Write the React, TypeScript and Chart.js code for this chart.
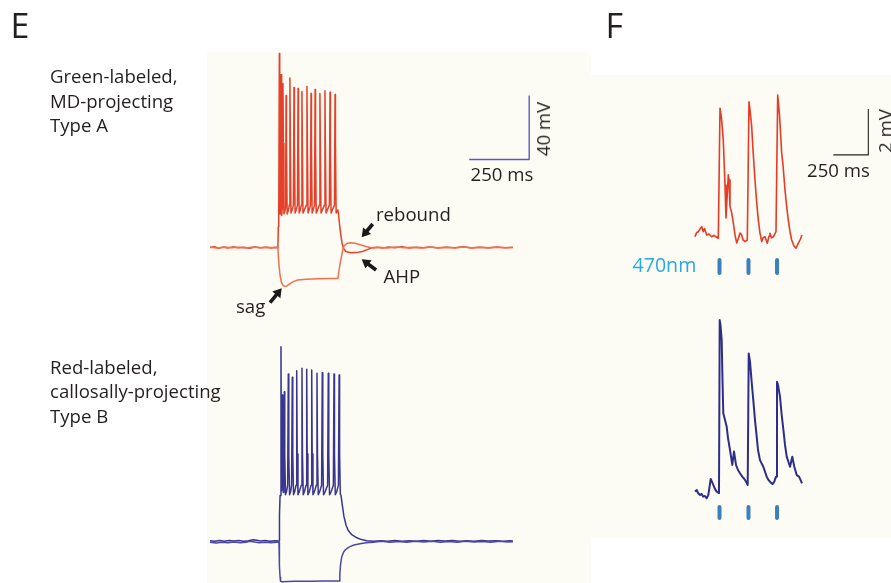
import React, { useEffect, useRef } from "react";
import { Chart, registerables } from "chart.js";

Chart.register(...registerables);

type P = [number, number];

// ---------- Panel E (time in ms, membrane potential in mV) ----------
const eRedSpiking: P[] = [
  [0, -65], [18, -64.5], [35, -65.4], [55, -64.8], [75, -65.3], [95, -64.6], [118, -65.2], [140, -64.9],
  [165, -65.4], [188, -64.7], [210, -65.2], [232, -64.8], [255, -65.3], [270, -64.8], [283, -65],
  [284.5, -52], [286.5, -42], [289, 56.3], [290.5, 0], [292, -44], [294, -40], [296, 43], [297.5, 0],
  [299.5, -45], [302, -39], [304, 37.5], [305.7, 0], [308, -44], [312, -42.5], [315, -39.5], [317, 30],
  [318.8, -5], [321.5, -44], [326, -42], [330.5, -38.5], [333, 41], [334.8, 0], [337.5, -43.5], [342, -41.5],
  [347.5, -38.5], [350, 35], [351.8, 0], [354.5, -43.5], [359, -41.5], [364.5, -38.5], [367, 34.4], [368.8, 0],
  [371.5, -43.5], [376, -41.5], [380.5, -38.5], [383, 32.5], [384.8, 0], [387.5, -43.5], [393, -41.5],
  [401.5, -38.5], [404, 35.6], [405.8, 0], [408.5, -43.5], [413, -41.5], [418.5, -38.5], [421, 31.3],
  [422.8, 0], [425.5, -43.5], [430, -41.5], [435.5, -38.5], [438, 33.8], [439.8, 0], [442.5, -43.5],
  [448, -41.5], [455.5, -38.5], [458, 31.3], [459.8, 0], [462.5, -43.5], [468, -41.5], [476.5, -38.5],
  [479, 33], [480.8, 0], [483.5, -43.5], [489, -41.5], [497.5, -38.5], [500, 32], [501.8, 0], [504.5, -43.5],
  [510, -41.5], [518.5, -38.5], [521, 30.6], [522.8, 0], [525.5, -43.5], [530, -42], [533, -41.5],
  [536, -45], [540, -51], [545, -57], [550, -62], [556, -65.5], [566, -67.5], [585, -68.3], [610, -68.2],
  [635, -67.5], [658, -66.2], [675, -65.2], [695, -64.8], [720, -65.3], [745, -64.7], [770, -65.2],
  [800, -64.6], [830, -65.3], [860, -64.8], [890, -65.2], [920, -64.7], [950, -65.3], [985, -64.8],
  [1020, -65.2], [1055, -64.6], [1090, -65.3], [1125, -64.8], [1160, -65.1], [1195, -64.7], [1230, -65.2],
  [1262, -64.9],
];

const eRedHyperpol: P[] = [
  [0, -64.9], [30, -65.3], [60, -64.7], [90, -65.2], [120, -64.8], [150, -65.3], [180, -64.7], [210, -65.1],
  [240, -64.8], [265, -65.2], [283, -65], [285, -71], [288, -77], [292, -82.5], [297, -86.5], [304, -88.7],
  [312, -89.3], [320, -89.1], [332, -87.8], [347, -86.3], [365, -85.3], [400, -84.8], [450, -84.6],
  [500, -84.4], [533, -84.3], [537, -80], [542, -75], [548, -70.5], [554, -66], [560, -63.8], [570, -62.5],
  [585, -62], [605, -62.4], [625, -63.3], [650, -64.4], [675, -65.3], [705, -64.8], [740, -65.3],
  [775, -64.7], [810, -65.2], [845, -64.8], [880, -65.3], [915, -64.7], [950, -65.1], [985, -64.8],
  [1020, -65.3], [1055, -64.7], [1090, -65.2], [1125, -64.8], [1160, -65.3], [1195, -64.8], [1230, -65.1],
  [1262, -65],
];

const eBlueSpiking: P[] = [
  [0, -64.2], [20, -64.6], [40, -64.1], [60, -64.5], [80, -64.0], [100, -64.4], [120, -64.1], [140, -64.6],
  [160, -64.2], [180, -63.6], [195, -63.9], [210, -64.4], [230, -64.1], [250, -64.5], [270, -64.2],
  [287.5, -64.3], [289.5, -48], [292, -36], [295.8, 57.1], [297.3, -10], [298.8, -33], [301.3, 26.9],
  [303, -10], [305.5, -34], [307.5, -31], [309.6, 28.9], [311.5, -10], [314.5, -35.5], [319, -33.5],
  [323.5, -29.5], [326.3, 40], [328.3, -10], [331.5, -35.5], [336, -33.5], [340, -29.5], [342.9, 37.9],
  [344.9, -10], [348, -35.5], [353, -33.5], [358.5, -29.5], [361.3, 42.1], [363.3, -10], [366.5, -35.5],
  [372, -33.5], [380.5, -29.5], [383.3, 43.6], [385.3, -10], [388.5, -35.5], [393.5, -33.5], [400, -29.5],
  [402.9, 42.9], [404.9, -10], [408, -35.5], [414, -33.5], [421, -29.5], [423.8, 42.5], [425.8, -10],
  [429, -35.5], [435, -33.5], [443, -29.5], [445.8, 40.4], [447.8, -10], [451, -35.5], [457, -33.5],
  [465, -29.5], [467.9, 40.8], [469.9, -10], [473, -35.5], [480, -33.5], [490, -29.5], [492.9, 40.4],
  [494.9, -10], [498, -35.5], [505, -33.5], [514, -29.5], [516.7, 40], [518.7, -10], [522, -35.5],
  [528, -33.5], [535, -29.5], [538, 39.4], [540, -10], [543, -35], [546, -36], [550, -40.5], [558, -49],
  [567, -54.5], [576, -57.8], [592, -60.6], [611, -62.3], [632, -63.5], [653, -64.2], [680, -64.5],
  [710, -64.2], [740, -64.6], [770, -64.1], [800, -64.5], [830, -64.2], [860, -64.6], [890, -64.1],
  [920, -64.5], [950, -64.0], [980, -64.4], [1010, -64.1], [1040, -64.5], [1070, -64.2], [1100, -64.6],
  [1130, -64.1], [1160, -64.4], [1190, -64.2], [1220, -64.5], [1250, -64.2], [1262, -64.3],
];

const eBlueHyperpol: P[] = [
  [0, -65.2], [25, -65.6], [50, -65.1], [75, -65.5], [100, -65.0], [125, -65.4], [150, -65.1], [165, -64.5],
  [180, -64.8], [205, -65.4], [230, -65.1], [255, -65.5], [275, -65.2], [287.5, -65.2], [288.5, -72],
  [290, -80], [292, -87], [294, -89.5], [300, -89.8], [350, -89.6], [420, -89.5], [480, -89.4], [539, -89.3],
  [541, -85], [544, -79], [549, -74.2], [556, -71.5], [563, -70], [573, -68.8], [583, -67.9], [600, -66.9],
  [625, -66.1], [650, -65.5], [680, -65.2], [715, -64.6], [750, -65.1], [785, -64.7], [820, -65.2],
  [855, -64.6], [890, -65.0], [925, -64.5], [960, -65.1], [995, -64.7], [1030, -65.2], [1065, -64.6],
  [1100, -65.0], [1135, -64.7], [1170, -65.2], [1205, -64.6], [1240, -65.0], [1262, -64.8],
];

// scale bar: 250 ms, 40 mV
const eScaleBar: P[] = [[1080, -10], [1330, -10], [1330, 30]];

// annotation arrows (tail -> tip), in E ms / mV
const eArrowTails: P[] = [[678, -50.3], [692, -79.1], [250, -99.5]];
const eArrowTips: P[] = [[632, -58.6], [632, -72.4], [298.8, -90.5]];

// ---------- Panel F (time in ms, mV relative to baseline) ----------
const fRedTrace: P[] = [
  [0, 0.01], [12, 0.2], [23.6, 0.23], [35.7, 0.35], [47.9, 0.45], [59.3, 0.23], [67.9, 0.37], [83.6, 0.09],
  [100, 0.13], [119.3, 0.01], [135.7, 0.07], [155, -0.01], [166.4, -0.06], [178.6, 5.6], [189, 5.17],
  [202, 4.22], [214.3, 2.26], [221.4, 0.83], [237.9, 2.7], [242.9, 2.48], [250, 1.32], [260.7, 1.09],
  [273.6, 0.61], [285.7, 0.09], [297.9, -0.26], [310.7, -0.04], [321.4, 0.17], [333.6, 0.09], [342.9, -0.13],
  [357.1, -0.2], [373.6, -0.13], [385.7, 5.88], [392.9, 5.52], [405, 4.8], [414.3, 3.78], [428.6, 2.48],
  [439.3, 1.61], [452.1, 0.74], [464.3, 0.17], [476.4, -0.2], [485.7, -0.04], [500, 0.01], [516.4, -0.27],
  [528.6, 0.04], [535.7, 0.16], [546.4, -0.04], [559.3, 0.01], [578.6, 0.23], [590.7, 6.17], [603.6, 5.3],
  [619.3, 3.64], [628.6, 3.13], [642.9, 2.04], [653.6, 1.39], [666.4, 0.74], [678.6, 0.22], [690.7, -0.13],
  [707, -0.39], [721.4, -0.49], [735.7, -0.3], [750, -0.13], [764.3, 0.09],
];

const fBlueTrace: P[] = [
  [0, 0.06], [12.1, 0.13], [21.4, 0], [35.7, -0.09], [46.4, -0.04], [59.3, -0.16], [71.4, -0.13],
  [83.6, -0.23], [95, -0.09], [112.1, 0.61], [130.7, 0.35], [142.9, 0.17], [155, 0.06], [171.4, -0.01],
  [176.4, 7.52], [182.1, 7.3], [190.7, 6.65], [196.4, 4.91], [202.1, 3.47], [214.3, 3.17], [226.4, 2.88],
  [235.7, 2.39], [250, 1.87], [266.4, 1.22], [278.6, 1.8], [292.9, 1.22], [307.1, 1], [321.4, 0.86],
  [339.3, 0.7], [357.1, 0.57], [376.4, 0.35], [383.6, 6.07], [392.9, 5.71], [403.6, 4.91], [416.4, 4.04],
  [428.6, 3.17], [440.7, 2.45], [450, 1.87], [464.3, 1.43], [487.9, 1.14], [512.1, 0.71], [525, 0.57],
  [540.7, 0.45], [553.6, 0.39], [566.4, 0.49], [578.6, 0.71], [585.7, 4.84], [592.9, 4.7], [607.1, 4.19],
  [619.3, 3.39], [631.4, 2.74], [642.9, 2.09], [655, 1.58], [667.9, 1.35], [678.6, 1.14], [695, 1.58],
  [709.3, 1.14], [726.4, 0.78], [742.9, 0.71], [753.6, 0.57], [764.3, 0.42],
];

// 470 nm light pulses (ms) and bar extents (mV) in each F row
const stimTimes: number[] = [175, 382, 586];
const fRedStimRange: [number, number] = [-1.0, -1.57];
const fBlueStimRange: [number, number] = [-0.61, -1.09];

// scale bar: 250 ms, 2 mV
const fScaleBar: P[] = [[988, 3.57], [1238, 3.57], [1238, 5.57]];

// ---------- layout ----------
const W = 891;
const H = 583;
const CREAM = "#fcfcf4";
const FS = 18.6;

const xRange = (originPx: number, ppu: number, originVal: number) => ({
  min: originVal - originPx / ppu,
  max: originVal + (W - originPx) / ppu,
});
const yRange = (originPx: number, ppu: number, originVal: number) => ({
  min: originVal - (H - originPx) / ppu,
  max: originVal + originPx / ppu,
});

const toXY = (arr: P[]) => arr.map(([x, y]) => ({ x, y }));
const stimData = (range: [number, number]) => {
  const out: { x: number; y: number | null }[] = [];
  stimTimes.forEach((t) => {
    out.push({ x: t, y: range[0] }, { x: t, y: range[1] }, { x: t, y: null });
  });
  return out;
};

const arrowPlugin = {
  id: "arrows",
  afterDatasetsDraw(chart: any) {
    const xs = chart.scales.xE;
    const ys = chart.scales.yE1;
    const ctx = chart.ctx as CanvasRenderingContext2D;
    ctx.save();
    ctx.fillStyle = "#1a1a1a";
    ctx.strokeStyle = "#1a1a1a";
    ctx.lineWidth = 3.6;
    ctx.lineCap = "butt";
    eArrowTails.forEach((tail, i) => {
      const tip = eArrowTips[i];
      const x0 = xs.getPixelForValue(tail[0]);
      const y0 = ys.getPixelForValue(tail[1]);
      const x1 = xs.getPixelForValue(tip[0]);
      const y1 = ys.getPixelForValue(tip[1]);
      const ang = Math.atan2(y1 - y0, x1 - x0);
      const headLen = 8.5;
      const headHalf = 5.2;
      const bx = x1 - Math.cos(ang) * headLen;
      const by = y1 - Math.sin(ang) * headLen;
      ctx.beginPath();
      ctx.moveTo(x0, y0);
      ctx.lineTo(bx + Math.cos(ang), by + Math.sin(ang));
      ctx.stroke();
      ctx.beginPath();
      ctx.moveTo(x1, y1);
      ctx.lineTo(bx - Math.sin(ang) * headHalf, by + Math.cos(ang) * headHalf);
      ctx.lineTo(bx + Math.sin(ang) * headHalf, by - Math.cos(ang) * headHalf);
      ctx.closePath();
      ctx.fill();
    });
    ctx.restore();
  },
};

type Label = { text: string; left: number; top: number; size?: number; color?: string };
// top = text baseline - 18.2 for the 18.6px body text
const labels: Label[] = [
  { text: "E", left: 10.5, top: 4.5, size: 34 },
  { text: "F", left: 605.5, top: 4.5, size: 34 },
  { text: "Green-labeled,", left: 50, top: 65.1 },
  { text: "MD-projecting", left: 50, top: 89.6 },
  { text: "Type A", left: 50, top: 114.1 },
  { text: "Red-labeled,", left: 50, top: 355.8 },
  { text: "callosally-projecting", left: 50, top: 380.3 },
  { text: "Type B", left: 50, top: 404.8 },
  { text: "sag", left: 236, top: 295.1 },
  { text: "rebound", left: 376, top: 202.5 },
  { text: "AHP", left: 383.5, top: 265.1 },
  { text: "250 ms", left: 470.5, top: 162.5 },
  { text: "250 ms", left: 807, top: 158.5 },
  { text: "470nm", left: 632.5, top: 254, size: 19.6, color: "#27a9e1" },
];
const rotLabels = [
  { text: "40 mV", cx: 543.3, cy: 129 },
  { text: "2 mV", cx: 884.5, cy: 131 },
];

export default function App() {
  const ref = useRef<HTMLCanvasElement>(null);

  useEffect(() => {
    const canvas = ref.current;
    if (!canvas) return;
    const line = (data: any[], color: string, width: number, xAxisID: string, yAxisID: string, extra: any = {}) => ({
      data,
      showLine: true,
      borderColor: color,
      backgroundColor: color,
      borderWidth: width,
      pointRadius: 0,
      pointHoverRadius: 0,
      tension: 0,
      fill: false,
      spanGaps: false,
      borderJoinStyle: "round",
      xAxisID,
      yAxisID,
      ...extra,
    });
    const chart = new Chart(canvas, {
      type: "scatter",
      data: {
        datasets: [
          line(toXY(eRedHyperpol), "#f2704f", 1.5, "xE", "yE1"),
          line(toXY(eRedSpiking), "#e5402a", 1.5, "xE", "yE1"),
          line(toXY(eBlueHyperpol), "#4a48a0", 1.5, "xE", "yE2"),
          line(toXY(eBlueSpiking), "#38368f", 1.5, "xE", "yE2"),
          line(toXY(eScaleBar), "#5c5cb0", 1.4, "xE", "yE1"),
          line(toXY(fRedTrace), "#e63b26", 1.6, "xF", "yF1"),
          line(toXY(fBlueTrace), "#2f2d8a", 2, "xF", "yF2"),
          line(stimData(fRedStimRange), "#3b7fbf", 4, "xF", "yF1", { borderCapStyle: "butt" }),
          line(stimData(fBlueStimRange), "#3b7fbf", 4, "xF", "yF2", { borderCapStyle: "butt" }),
          line(toXY(fScaleBar), "#222222", 1.1, "xF", "yF1"),
        ] as any,
      },
      options: {
        responsive: false,
        animation: false,
        events: [],
        layout: { padding: 0 },
        plugins: { legend: { display: false }, tooltip: { enabled: false } },
        scales: {
          xE: { type: "linear", axis: "x", display: false, ...xRange(210, 0.24, 0) },
          yE1: { type: "linear", axis: "y", display: false, ...yRange(247.5, 1.6, -65) },
          yE2: { type: "linear", axis: "y", display: false, ...yRange(542, 1.6, -65) },
          xF: { type: "linear", axis: "x", display: false, ...xRange(695, 0.14, 0) },
          yF1: { type: "linear", axis: "y", display: false, ...yRange(237, 23, 0) },
          yF2: { type: "linear", axis: "y", display: false, ...yRange(493, 23, 0) },
        } as any,
      },
      plugins: [arrowPlugin],
    });
    return () => chart.destroy();
  }, []);

  return (
    <div
      style={{
        position: "absolute",
        left: 0,
        top: 0,
        width: W,
        height: H,
        background: "#ffffff",
        overflow: "hidden",
        fontFamily: '"Open Sans", sans-serif',
        color: "#231f20",
      }}
    >
      <div style={{ position: "absolute", left: 207, top: 52, width: 384, height: H - 52, background: CREAM }} />
      <div style={{ position: "absolute", left: 591, top: 75, width: W - 591, height: 463, background: CREAM }} />
      <canvas ref={ref} width={W} height={H} style={{ position: "absolute", left: 0, top: 0, display: "block" }} />
      {labels.map((l, i) => {
        const size = l.size ?? FS;
        return (
          <div
            key={i}
            style={{
              position: "absolute",
              left: l.left,
              top: l.top,
              fontSize: size,
              lineHeight: size > 30 ? "40px" : "22px",
              whiteSpace: "nowrap",
              color: l.color ?? "#231f20",
            }}
          >
            {l.text}
          </div>
        );
      })}
      {rotLabels.map((l, i) => (
        <div
          key={"r" + i}
          style={{
            position: "absolute",
            left: l.cx,
            top: l.cy,
            fontSize: FS,
            lineHeight: "22px",
            whiteSpace: "nowrap",
            transform: "translate(-50%, -50%) rotate(-90deg)",
          }}
        >
          {l.text}
        </div>
      ))}
    </div>
  );
}
